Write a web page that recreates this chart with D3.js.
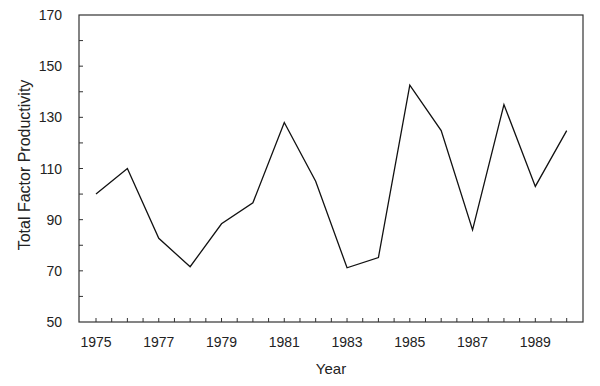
<!DOCTYPE html>
<html lang="en">
<head>
    <meta charset="utf-8">
    <title>Total Factor Productivity</title>
    <script type="text/javascript" src="https://d3js.org/d3.v7.min.js"></script>
</head>
<style>
body { margin: 0; background: #fff; }
text { font-family: "Liberation Sans", Arial, sans-serif; fill: #222; }
</style>
<body>
<script type="text/javascript">

    var years = [1975, 1976, 1977, 1978, 1979, 1980, 1981, 1982, 1983, 1984, 1985, 1986, 1987, 1988, 1989, 1990];
    var tfp = [100, 110, 82.7, 71.6, 88.4, 96.6, 128, 105, 71.2, 75.2, 142.6, 124.8, 86, 135, 103, 124.8];
    var yTicks = [50, 70, 90, 110, 130, 150, 170];
    var xTicks = [1975, 1977, 1979, 1981, 1983, 1985, 1987, 1989];

    var W = 600, H = 386;
    var plotL = 79, plotR = 583, plotT = 15, plotB = 322;

    var svg = d3.select("body").append("svg").attr("width", W).attr("height", H);

    var x = d3.scaleLinear().domain([1975, 1990]).range([96, 566.7]);
    var y = d3.scaleLinear().domain([50, 170]).range([plotB, plotT]);

    // frame
    svg.append("rect")
        .attr("x", plotL).attr("y", plotT)
        .attr("width", plotR - plotL).attr("height", plotB - plotT)
        .attr("fill", "none").attr("stroke", "#333").attr("stroke-width", 1.2);

    // y ticks every 10, labels every 20
    svg.selectAll(".ytick")
        .data(d3.range(60, 170, 10))
        .enter().append("line")
        .attr("x1", plotL).attr("x2", plotL + 4)
        .attr("y1", function(d) { return y(d); })
        .attr("y2", function(d) { return y(d); })
        .attr("stroke", "#333");

    svg.selectAll(".ylab")
        .data(yTicks)
        .enter().append("text")
        .attr("x", 62)
        .attr("y", function(d) { return y(d) + 5; })
        .attr("text-anchor", "end")
        .attr("font-size", 14)
        .text(function(d) { return d; });

    // x ticks every half year
    svg.selectAll(".xtick")
        .data(d3.range(1975, 1990.01, 0.5))
        .enter().append("line")
        .attr("x1", function(d) { return x(d); })
        .attr("x2", function(d) { return x(d); })
        .attr("y1", plotB).attr("y2", plotB - 4)
        .attr("stroke", "#333");

    svg.selectAll(".xlab")
        .data(xTicks)
        .enter().append("text")
        .attr("x", function(d) { return x(d); })
        .attr("y", 347)
        .attr("text-anchor", "middle")
        .attr("font-size", 14)
        .text(function(d) { return d; });

    var line = d3.line()
        .x(function(d, i) { return x(years[i]); })
        .y(function(d) { return y(d); });

    svg.append("path")
        .datum(tfp)
        .attr("d", line)
        .attr("fill", "none")
        .attr("stroke", "#111")
        .attr("stroke-width", 1.3);

    svg.append("text")
        .attr("x", 331).attr("y", 374)
        .attr("text-anchor", "middle")
        .attr("font-size", 15)
        .text("Year");

    svg.append("text")
        .attr("transform", "translate(30,165) rotate(-90)")
        .attr("text-anchor", "middle")
        .attr("font-size", 16)
        .text("Total Factor Productivity");

</script>
</body>
</html>
